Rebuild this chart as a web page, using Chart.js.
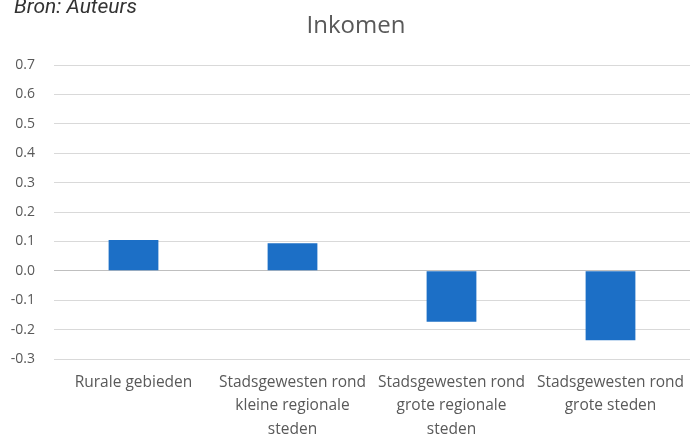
<!DOCTYPE html>
<html>
<head>
<meta charset="utf-8">
<script src="https://cdn.jsdelivr.net/npm/chart.js@4/dist/chart.umd.min.js"></script>
<style>
  html, body { margin: 0; padding: 0; background: #ffffff; }
  #wrap { position: relative; width: 690px; height: 435px; overflow: hidden; }
</style>
</head>
<body>
<div id="wrap"><canvas id="c" width="690" height="435"></canvas></div>
<script>
// Regional categories (multi-line labels) and income effect per region
const categories = [
  ["Rurale gebieden"],
  ["Stadsgewesten rond", "kleine regionale", "steden"],
  ["Stadsgewesten rond", "grote regionale", "steden"],
  ["Stadsgewesten rond", "grote steden"]
];
const inkomen = [0.105, 0.094, -0.173, -0.236];
const yTicks = [-0.3, -0.2, -0.1, 0.0, 0.1, 0.2, 0.3, 0.4, 0.5, 0.6, 0.7];
const chartTitle = "Inkomen";
const sourceNote = "Bron: Auteurs";

const textGrey = "#595959";
const fontFamily = "'Open Sans', 'Noto Sans', sans-serif";

// Title and source note drawn on the canvas
const headerPlugin = {
  id: "header",
  afterDraw(chart) {
    const ctx = chart.ctx;
    ctx.save();
    ctx.fillStyle = "#333333";
    ctx.font = "italic 21px Roboto, 'Liberation Sans', sans-serif";
    ctx.textAlign = "left";
    ctx.textBaseline = "alphabetic";
    ctx.fillText(sourceNote, 14, 13);
    ctx.fillStyle = textGrey;
    ctx.font = "24px " + fontFamily;
    ctx.textAlign = "center";
    ctx.textBaseline = "middle";
    ctx.fillText(chartTitle, 356, 26);
    ctx.restore();
  }
};

new Chart(document.getElementById("c"), {
  type: "bar",
  data: {
    labels: categories,
    datasets: [{
      label: chartTitle,
      data: inkomen,
      backgroundColor: "#1c6fc6",
      borderWidth: 0,
      categoryPercentage: 1.0,
      barPercentage: 0.313
    }]
  },
  options: {
    responsive: false,
    animation: false,
    layout: { padding: { top: 65, right: -2, bottom: 0, left: 0 } },
    plugins: {
      legend: { display: false },
      title: { display: false },
      tooltip: { enabled: false }
    },
    scales: {
      x: {
        grid: { display: false, drawTicks: false },
        border: { display: false },
        ticks: {
          color: textGrey,
          font: { family: fontFamily, size: 15.5, lineHeight: 1.5 },
          padding: 12,
          maxRotation: 0,
          autoSkip: false
        },
        afterFit(scale) {
          scale.height = 76;
          scale.paddingLeft = 0;
          scale.paddingRight = 0;
        }
      },
      y: {
        min: -0.3,
        max: 0.7,
        afterBuildTicks(scale) { scale.ticks = yTicks.map(v => ({ value: v })); },
        grid: {
          drawTicks: false,
          color: ctx => (ctx.tick && ctx.tick.value === 0) ? "#bfbfbf" : "#d9d9d9",
          lineWidth: 1
        },
        border: { display: false },
        ticks: {
          color: textGrey,
          font: { family: fontFamily, size: 14 },
          padding: 19,
          callback: v => Number(v).toFixed(1)
        },
        afterFit(scale) { scale.width = 54; }
      }
    }
  },
  plugins: [headerPlugin]
});
</script>
</body>
</html>
